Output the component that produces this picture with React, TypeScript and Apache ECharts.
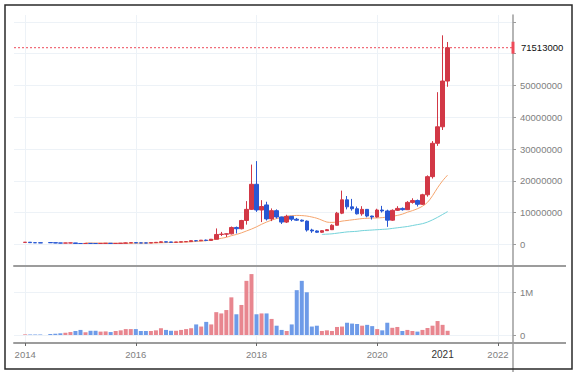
import React, { useEffect, useRef } from "react";
import * as echarts from "echarts";

// ---------- data (prices in millions of KRW, volume in units) ----------
const MONTHS = [
  "2014-03", "2014-04", "2014-05", "2014-06",
  "2014-08", "2014-09", "2014-10", "2014-11", "2014-12",
  "2015-01", "2015-02", "2015-03", "2015-04", "2015-05", "2015-06", "2015-07", "2015-08", "2015-09", "2015-10", "2015-11", "2015-12",
  "2016-01", "2016-02", "2016-03", "2016-04", "2016-05", "2016-06", "2016-07", "2016-08", "2016-09", "2016-10", "2016-11", "2016-12",
  "2017-01", "2017-02", "2017-03", "2017-04", "2017-05", "2017-06", "2017-07", "2017-08", "2017-09", "2017-10", "2017-11", "2017-12",
  "2018-01", "2018-02", "2018-03", "2018-04", "2018-05", "2018-06", "2018-07", "2018-08", "2018-09", "2018-10", "2018-11", "2018-12",
  "2019-01", "2019-02", "2019-03", "2019-04", "2019-05", "2019-06", "2019-07", "2019-08", "2019-09", "2019-10", "2019-11", "2019-12",
  "2020-01", "2020-02", "2020-03", "2020-04", "2020-05", "2020-06", "2020-07", "2020-08", "2020-09", "2020-10", "2020-11", "2020-12",
  "2021-01", "2021-02", "2021-03",
];

const OPEN = [
  0.60, 0.66, 0.52, 0.48,
  0.55, 0.50, 0.42, 0.38, 0.42,
  0.44, 0.26, 0.25, 0.28, 0.26, 0.255, 0.29, 0.33, 0.27, 0.28, 0.36, 0.44,
  0.52, 0.44, 0.43, 0.42, 0.52, 0.62, 0.78, 0.72, 0.66, 0.70, 0.80, 0.86,
  1.15, 1.12, 1.30, 1.22, 1.60, 3.10, 3.20, 3.30, 5.30, 4.90, 7.50, 11.00,
  18.90, 10.80, 12.40, 8.00, 10.60, 8.60, 7.00, 8.80, 7.90, 7.60, 7.30, 4.50,
  4.20, 3.80, 4.30, 4.60, 6.00, 9.80, 14.00, 11.80, 11.20, 9.60, 11.00, 8.90,
  8.60, 10.80, 10.50, 7.60, 10.70, 11.30, 10.90, 13.20, 13.80, 12.60, 15.60, 21.30,
  31.80, 37.00, 51.40,
];

const CLOSE = [
  0.66, 0.52, 0.48, 0.45,
  0.50, 0.42, 0.38, 0.42, 0.44,
  0.26, 0.25, 0.28, 0.26, 0.255, 0.29, 0.33, 0.27, 0.28, 0.36, 0.44, 0.52,
  0.44, 0.43, 0.42, 0.52, 0.62, 0.78, 0.72, 0.66, 0.70, 0.80, 0.86, 1.15,
  1.12, 1.30, 1.22, 1.60, 3.10, 3.20, 3.30, 5.30, 4.90, 7.50, 11.00, 18.90,
  10.80, 11.90, 8.00, 10.60, 8.60, 7.00, 8.80, 7.90, 7.60, 7.30, 4.50, 4.20,
  3.80, 4.30, 4.60, 6.00, 9.80, 14.00, 11.80, 11.20, 9.60, 11.00, 8.90, 8.60,
  10.80, 10.50, 7.60, 10.70, 11.30, 10.90, 13.20, 13.80, 12.60, 15.60, 21.30, 31.80,
  37.00, 51.40, 61.90,
];

const LOW = [
  0.55, 0.45, 0.44, 0.42,
  0.45, 0.38, 0.32, 0.35, 0.34,
  0.18, 0.22, 0.23, 0.24, 0.24, 0.25, 0.28, 0.24, 0.26, 0.27, 0.35, 0.40,
  0.42, 0.40, 0.40, 0.41, 0.50, 0.60, 0.65, 0.55, 0.65, 0.68, 0.78, 0.85,
  0.90, 1.05, 1.00, 1.18, 1.58, 2.60, 2.30, 3.10, 3.40, 4.70, 6.20, 10.80,
  10.20, 7.00, 7.50, 7.30, 8.10, 6.40, 6.70, 7.30, 7.40, 7.10, 4.00, 3.60,
  3.60, 3.60, 4.20, 4.50, 5.90, 9.50, 11.00, 10.60, 9.40, 9.00, 8.50, 7.80,
  8.40, 10.00, 5.50, 7.40, 10.50, 10.60, 10.80, 12.80, 11.90, 12.40, 15.00, 20.70,
  31.00, 36.00, 49.60,
];

const HIGH = [
  0.72, 0.70, 0.56, 0.52,
  0.60, 0.52, 0.44, 0.46, 0.47,
  0.45, 0.30, 0.32, 0.29, 0.27, 0.30, 0.35, 0.34, 0.29, 0.37, 0.56, 0.55,
  0.55, 0.50, 0.46, 0.54, 0.64, 0.90, 0.80, 0.74, 0.72, 0.82, 0.88, 1.18,
  1.35, 1.36, 1.48, 1.66, 5.00, 3.90, 3.50, 5.60, 5.60, 7.70, 13.60, 25.10,
  26.20, 13.90, 13.40, 11.30, 11.00, 8.70, 9.30, 8.90, 8.30, 7.80, 7.50, 4.90,
  4.40, 4.50, 4.80, 6.30, 10.20, 16.90, 15.20, 14.30, 11.90, 12.00, 11.10, 9.00,
  11.20, 12.10, 10.90, 11.00, 12.00, 11.60, 13.60, 14.50, 14.10, 15.90, 21.70, 32.50,
  47.90, 65.80, 63.70,
];

const VOLUME = [
  15000, 12000, 12000, 12000,
  24000, 30000, 40000, 55000, 70000,
  95000, 120000, 65000, 100000, 100000, 80000, 85000, 70000, 95000, 110000, 140000, 140000,
  140000, 95000, 95000, 95000, 110000, 160000, 120000, 100000, 100000, 120000, 140000, 160000,
  250000, 200000, 310000, 250000, 540000, 510000, 590000, 890000, 490000, 710000, 1280000, 1440000,
  490000, 510000, 510000, 380000, 220000, 120000, 95000, 250000, 1060000, 1280000, 1010000, 200000,
  220000, 95000, 110000, 95000, 190000, 200000, 290000, 270000, 260000, 220000, 240000, 210000,
  140000, 110000, 290000, 170000, 190000, 95000, 120000, 95000, 80000, 120000, 165000, 220000,
  330000, 240000, 100000,
];

// moving-average lines (monthly, contiguous from their start month)
const MA_FAST_START = "2015-03";
const MA_FAST = [
  0.45, 0.42, 0.40, 0.38, 0.36, 0.35, 0.33, 0.32, 0.32, 0.33,
  0.35, 0.37, 0.39, 0.42, 0.45, 0.49, 0.53, 0.57, 0.61, 0.66,
  0.72, 0.80, 0.90, 1.00, 1.15, 1.35, 1.60, 1.90, 2.20, 2.70,
  3.10, 3.60, 4.20, 4.80, 5.50, 6.30, 7.00, 7.60, 8.10, 8.50,
  8.85, 9.00, 9.10, 9.05, 8.90, 8.60, 8.20, 7.60, 7.00, 6.90,
  7.00, 7.30, 7.50, 7.70, 7.90, 8.10, 8.20, 8.25, 8.30, 8.40,
  8.60, 8.80, 9.10, 9.50, 10.10, 10.60, 11.20, 12.00, 13.20, 15.30,
  17.80, 20.00, 21.80,
];
const MA_SLOW_START = "2019-02";
const MA_SLOW = [
  3.1, 3.2, 3.3, 3.5, 3.7, 3.9, 4.0, 4.1, 4.3, 4.4,
  4.5, 4.6, 4.7, 4.8, 5.0, 5.2, 5.4, 5.6, 5.9, 6.2,
  6.5, 7.0, 7.7, 8.5, 9.4, 10.3,
];

const YEAR_TICK_MONTHS = ["2014-03", "2016-01", "2018-01", "2020-01", "2022-01"];
const CURRENT_LABEL_MONTH = "2021-02";
const PRICE_TICKS = [0, 10, 20, 30, 40, 50, 60, 70];
const PRICE_LABELS = [0, 10, 20, 30, 40, 50];
const VOLUME_TICKS = [0, 1000000];
const LAST_PRICE_TEXT = "71513000";

// ---------- helpers / layout ----------
const monthIndex = (s: string) => {
  const [y, m] = s.split("-").map(Number);
  return (y - 2014) * 12 + (m - 1);
};

const X_MIN = -0.22;
const X_MAX = 99;
const P_MIN = -6.83;
const P_MAX = 72.2;
const V_MIN = -189000;
const V_MAX = 1631000;

const UP = "#d23846";
const DOWN = "#2858d3";
const UP_VOL = "#e8868f";
const DOWN_VOL = "#6e9be8";
const PRICE_LINE = "#ee4a58";
const GRID_LINE = "#edf2f7";
const AXIS = "#9c9c9c";
const LABEL = "#808080";
const FONT = "Liberation Sans, Arial, sans-serif";

export default function App() {
  const ref = useRef<HTMLDivElement>(null);

  useEffect(() => {
    const el = ref.current;
    if (!el) return;
    const chart = echarts.init(el, null, { renderer: "svg" });

    const xs = MONTHS.map(monthIndex);
    const candleData = MONTHS.map((_, i) => [xs[i], OPEN[i], CLOSE[i], LOW[i], HIGH[i]]);
    const volData = MONTHS.map((_, i) => ({
      value: [xs[i], VOLUME[i]],
      itemStyle: { color: CLOSE[i] >= OPEN[i] ? UP_VOL : DOWN_VOL },
    }));
    const fastStart = monthIndex(MA_FAST_START);
    const slowStart = monthIndex(MA_SLOW_START);
    const fastData = MA_FAST.map((v, j) => [fastStart + j, v]);
    const slowData = MA_SLOW.map((v, j) => [slowStart + j, v]);
    const lastClose = CLOSE[CLOSE.length - 1];

    const yearTicks = YEAR_TICK_MONTHS.map(monthIndex);
    const currentTick = monthIndex(CURRENT_LABEL_MONTH);
    const yearLabelValues = [...yearTicks, currentTick];

    const option: any = {
      animation: false,
      backgroundColor: "#ffffff",
      textStyle: { fontFamily: FONT },
      grid: [
        { left: 14, right: 67, top: 15, height: 251 },
        { left: 14, right: 67, top: 266, height: 77 },
      ],
      xAxis: [
        {
          type: "value",
          gridIndex: 0,
          min: X_MIN,
          max: X_MAX,
          axisLine: { show: true, onZero: false, lineStyle: { color: AXIS, width: 2 } },
          axisTick: { show: false, customValues: yearTicks },
          axisLabel: { show: false },
          splitLine: { show: true, lineStyle: { color: GRID_LINE, width: 1 } },
        },
        {
          type: "value",
          gridIndex: 1,
          min: X_MIN,
          max: X_MAX,
          axisLine: { show: true, onZero: false, lineStyle: { color: AXIS, width: 2 } },
          axisTick: { show: true, length: 3, customValues: yearTicks, lineStyle: { color: "#666", width: 1 } },
          axisLabel: {
            show: true,
            customValues: yearLabelValues,
            margin: 6,
            color: LABEL,
            fontSize: 9.5,
            fontFamily: FONT,
            formatter: (v: number) => {
              const y = String(2014 + Math.floor((v + 0.001) / 12));
              return Math.abs(v - currentTick) < 0.01 ? `{cur|${y}}` : y;
            },
            rich: {
              cur: { color: "#333", fontSize: 10, fontFamily: FONT, padding: [0, 0, 3, 0] },
            },
          },
          splitLine: { show: true, lineStyle: { color: GRID_LINE, width: 1 } },
        },
      ],
      yAxis: [
        {
          type: "value",
          gridIndex: 0,
          position: "right",
          min: P_MIN,
          max: P_MAX,
          axisLine: { show: true, onZero: false, lineStyle: { color: AXIS, width: 1.5 } },
          axisTick: { show: true, length: 3, customValues: PRICE_TICKS, lineStyle: { color: AXIS } },
          axisLabel: {
            show: true,
            customValues: PRICE_LABELS,
            margin: 7,
            color: LABEL,
            fontSize: 9.5,
            fontFamily: FONT,
            formatter: (v: number) => String(Math.round(v * 1e6)),
          },
          splitLine: { show: true, lineStyle: { color: GRID_LINE, width: 1 } },
        },
        {
          type: "value",
          gridIndex: 1,
          position: "right",
          min: V_MIN,
          max: V_MAX,
          axisLine: { show: true, onZero: false, lineStyle: { color: AXIS, width: 1.5 } },
          axisTick: { show: true, length: 3, customValues: VOLUME_TICKS, lineStyle: { color: AXIS } },
          axisLabel: {
            show: true,
            customValues: VOLUME_TICKS,
            margin: 7,
            color: LABEL,
            fontSize: 9.5,
            fontFamily: FONT,
            formatter: (v: number) => (v === 0 ? "0" : `${Math.round(v / 1e6)}M`),
          },
          splitLine: { show: true, lineStyle: { color: GRID_LINE, width: 1 } },
        },
      ],
      series: [
        {
          type: "line",
          xAxisIndex: 0,
          yAxisIndex: 0,
          data: fastData,
          showSymbol: false,
          smooth: 0.3,
          z: 1,
          lineStyle: { color: "#f5a56e", width: 1 },
        },
        {
          type: "line",
          xAxisIndex: 0,
          yAxisIndex: 0,
          data: slowData,
          showSymbol: false,
          smooth: 0.3,
          z: 1,
          lineStyle: { color: "#74d3da", width: 1 },
        },
        {
          // last-price line across the price panel
          type: "line",
          xAxisIndex: 0,
          yAxisIndex: 0,
          silent: true,
          data: [
            [X_MIN, lastClose],
            [X_MAX, lastClose],
          ],
          showSymbol: false,
          z: 2,
          itemStyle: { color: PRICE_LINE },
          lineStyle: { color: PRICE_LINE, width: 1, type: [2, 2] },
          endLabel: {
            show: true,
            formatter: LAST_PRICE_TEXT,
            distance: 8,
            color: "#111",
            fontSize: 9.5,
            fontFamily: FONT,
          },
        },
        {
          type: "candlestick",
          xAxisIndex: 0,
          yAxisIndex: 0,
          data: candleData,
          encode: { x: 0, y: [1, 2, 3, 4] },
          barWidth: 4,
          z: 3,
          itemStyle: {
            color: UP,
            color0: DOWN,
            borderColor: UP,
            borderColor0: DOWN,
            borderWidth: 1,
          },
          markPoint: {
            silent: true,
            symbol: "rect",
            symbolSize: [3, 12],
            data: [{ coord: [X_MAX, lastClose] }],
            itemStyle: { color: PRICE_LINE },
            label: { show: false },
          },
        },
        {
          type: "bar",
          xAxisIndex: 1,
          yAxisIndex: 1,
          data: volData,
          barWidth: 4,
        },
      ],
      graphic: [
        {
          type: "line",
          silent: true,
          shape: { x1: 513, y1: 266, x2: 566, y2: 266 },
          style: { stroke: AXIS, lineWidth: 2 },
        },
        {
          type: "line",
          silent: true,
          shape: { x1: 513, y1: 343, x2: 566, y2: 343 },
          style: { stroke: AXIS, lineWidth: 2 },
        },
        {
          type: "line",
          silent: true,
          shape: { x1: 513, y1: 343, x2: 513, y2: 372 },
          style: { stroke: AXIS, lineWidth: 1.5 },
        },
        {
          type: "rect",
          silent: true,
          z: 100,
          shape: { x: 5, y: 5, width: 567, height: 364 },
          style: { fill: "none", stroke: "#2a2a2a", lineWidth: 1.5 },
        },
      ],
    };

    chart.setOption(option);
    return () => chart.dispose();
  }, []);

  return (
    <div
      ref={ref}
      style={{ position: "fixed", left: 0, top: 0, width: 580, height: 375, background: "#fff" }}
    />
  );
}
